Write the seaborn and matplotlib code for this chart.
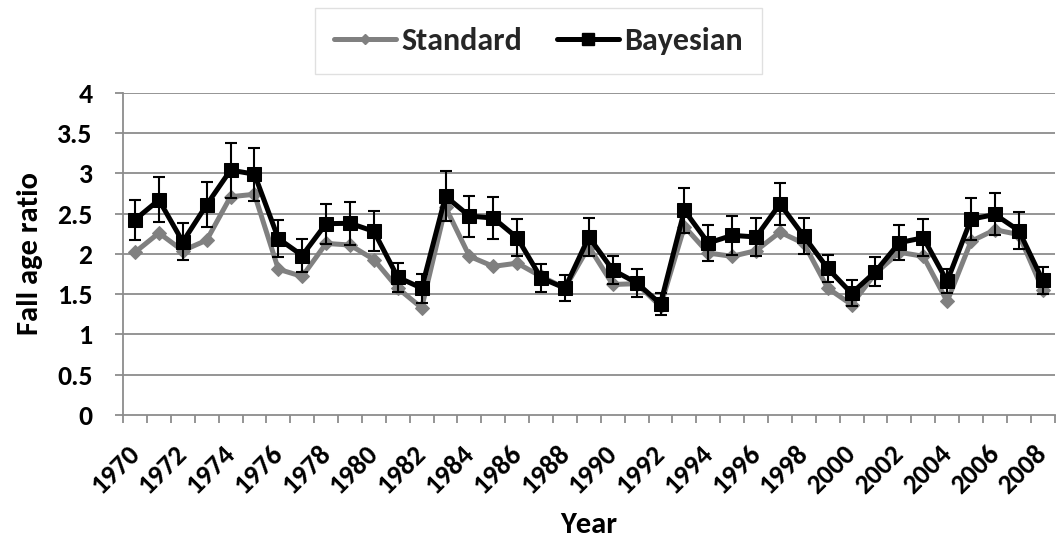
import numpy as np
import pandas as pd
import matplotlib
matplotlib.use("Agg")
import matplotlib.pyplot as plt
from matplotlib import font_manager
import seaborn as sns

years = list(range(1970, 2009))
standard = [2.02, 2.26, 2.04, 2.17, 2.71, 2.74, 1.81, 1.72, 2.13, 2.11,
            1.93, 1.575, 1.33, 2.58, 1.97, 1.845, 1.885, 1.72, 1.575, 2.09,
            1.62, 1.63, 1.35, 2.34, 2.01, 1.97, 2.04, 2.27, 2.13, 1.575,
            1.37, 1.76, 2.02, 1.97, 1.41, 2.155, 2.30, 2.24, 1.555]
bayesian = [2.425, 2.67, 2.15, 2.61, 3.04, 2.99, 2.19, 1.98, 2.375, 2.38,
            2.28, 1.71, 1.575, 2.715, 2.47, 2.445, 2.20, 1.70, 1.575, 2.21,
            1.80, 1.64, 1.38, 2.54, 2.135, 2.23, 2.21, 2.62, 2.22, 1.82,
            1.51, 1.78, 2.14, 2.20, 1.66, 2.43, 2.49, 2.29, 1.67]
bayes_err = [0.25, 0.28, 0.23, 0.28, 0.34, 0.33, 0.23, 0.20, 0.25, 0.27,
             0.25, 0.18, 0.18, 0.31, 0.255, 0.26, 0.23, 0.175, 0.165, 0.23,
             0.18, 0.17, 0.14, 0.28, 0.22, 0.24, 0.24, 0.26, 0.22, 0.17,
             0.16, 0.18, 0.22, 0.23, 0.15, 0.26, 0.26, 0.23, 0.17]
tick_years = list(range(1970, 2009, 2))

# pick a family that really has a bold face
bold_families = {f.name for f in font_manager.fontManager.ttflist
                 if (isinstance(f.weight, int) and f.weight >= 600)
                 or (isinstance(f.weight, str) and "bold" in f.weight.lower())}
FAMILY = "DejaVu Sans"
for cand in ["Carlito", "Lato", "Open Sans", "Noto Sans", "Roboto", "Liberation Sans"]:
    if cand in bold_families:
        FAMILY = cand
        break
scale = 1.0 if FAMILY == "Carlito" else 0.9
if FAMILY in ("DejaVu Sans", "Liberation Sans", "Noto Sans", "Open Sans", "Roboto"):
    scale = 0.82

sns.set_theme(style="white")
plt.rcParams['font.family'] = [FAMILY, 'DejaVu Sans']
plt.rcParams['font.weight'] = 'bold'

TICK = 20 * scale
TITLE = 22 * scale
LEG = 23 * scale

fig = plt.figure(figsize=(10.61, 5.46), dpi=100)
ax = fig.add_axes([0.116, 0.240, 0.878, 0.590])

df = pd.DataFrame({"Year": years, "Standard": standard, "Bayesian": bayesian})

grid_col = "#8c8c8c"
for v in np.arange(0.5, 4.01, 0.5):
    ax.axhline(v, color=grid_col, lw=1.3, zorder=0)

sns.lineplot(data=df, x="Year", y="Standard", ax=ax, color="#808080", lw=3.6,
             marker="D", markersize=7, markeredgecolor="#808080", zorder=2,
             label="Standard")
ax.errorbar(years, bayesian, yerr=bayes_err, fmt="none", ecolor="black",
            elinewidth=1.5, capsize=4, capthick=1.5, zorder=3)
sns.lineplot(data=df, x="Year", y="Bayesian", ax=ax, color="black", lw=3.6,
             marker="s", markersize=10, markeredgecolor="black", zorder=4,
             label="Bayesian")

ax.set_xlim(1969.5, 2008.5)
ax.set_ylim(0, 4)
ax.set_yticks(np.arange(0, 4.01, 0.5))
ax.set_yticklabels(["0", "0.5", "1", "1.5", "2", "2.5", "3", "3.5", "4"])
ax.set_xticks(tick_years)
ax.set_xticklabels([str(y) for y in tick_years], rotation=45, ha="right",
                   va="center", rotation_mode="anchor")
ax.set_xticks(np.arange(1969.5, 2008.6, 1), minor=True)
ax.tick_params(axis="x", which="major", length=0, labelsize=TICK, pad=25)
ax.tick_params(axis="x", which="minor", length=6, color=grid_col, width=1.3,
               direction="out", bottom=True)
ax.tick_params(axis="y", which="major", length=6, color=grid_col, width=1.3,
               direction="out", left=True, labelsize=TICK, pad=16)
for lab in ax.get_xticklabels() + ax.get_yticklabels():
    lab.set_fontweight("bold")
    lab.set_color("black")

for s in ["top", "right"]:
    ax.spines[s].set_visible(False)
for s in ["left", "bottom"]:
    ax.spines[s].set_color(grid_col)
    ax.spines[s].set_linewidth(1.3)

ax.set_xlabel("Year", fontsize=TITLE, fontweight="bold", labelpad=10,
              color="black")
ax.set_ylabel("Fall age ratio", fontsize=TITLE, fontweight="bold",
              labelpad=10, color="black")

ax.legend_.remove()
h_std = plt.Line2D([], [], color="#808080", lw=3.6, marker="D", markersize=5)
h_bay = plt.Line2D([], [], color="black", lw=3.6, marker="s", markersize=9)
leg = fig.legend([h_std, h_bay], ["Standard", "Bayesian"], loc="center",
                 bbox_to_anchor=(0.5075, 0.925), ncol=2, frameon=True,
                 fancybox=False, edgecolor="#d9d9d9",
                 handlelength=1.95, handletextpad=0.15, columnspacing=1.1,
                 borderpad=0.6, prop={"weight": "bold", "size": LEG,
                                      "family": [FAMILY, "DejaVu Sans"]})
leg.get_frame().set_linewidth(1.0)

fig.savefig("out.png", dpi=100, facecolor="white")
